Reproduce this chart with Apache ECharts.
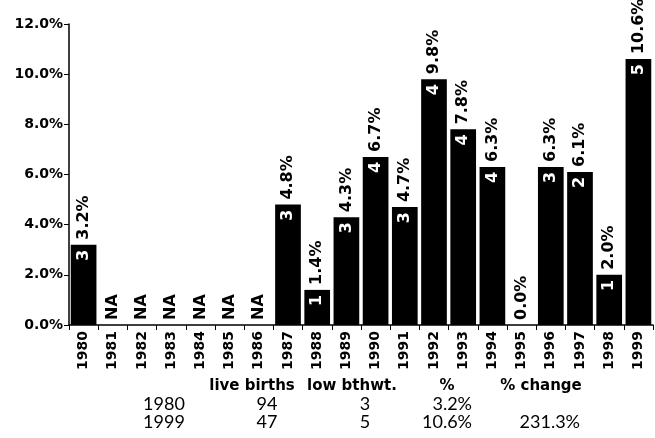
<!DOCTYPE html>
<html>
<head>
<meta charset="utf-8">
<script src="https://cdn.jsdelivr.net/npm/echarts@6/dist/echarts.min.js"></script>
<style>
  html, body { margin: 0; padding: 0; background: #fff; }
  #main { width: 655px; height: 438px; }
</style>
</head>
<body>
<div id="main"></div>
<script>
// data
const years = ['1980', '1981', '1982', '1983', '1984', '1985', '1986', '1987', '1988', '1989',
  '1990', '1991', '1992', '1993', '1994', '1995', '1996', '1997', '1998', '1999']
// percent low birthweight, null = NA
const pct = [3.2, null, null, null, null, null, null, 4.8, 1.4, 4.3,
  6.7, 4.7, 9.8, 7.8, 6.3, 0.0, 6.3, 6.1, 2.0, 10.6]
// number of low birthweight births (label inside bar)
const lowCount = [3, null, null, null, null, null, null, 3, 1, 3,
  4, 3, 4, 4, 4, 0, 3, 2, 1, 5]

const tableHead = ['live births', 'low bthwt.', '%', '% change']
const tableRows = [
  ['1980', '94', '3', '3.2%', ''],
  ['1999', '47', '5', '10.6%', '231.3%']
]

const bold = '"DejaVu Sans", sans-serif'
const light = 'Lato, "DejaVu Sans", sans-serif'

let chart = echarts.init(document.getElementById('main'))

// value bar + outer label
let barData = pct.map(v => ({
  value: v === null ? 0 : v,
  label: { formatter: v === null ? 'NA' : v.toFixed(1) + '%' }
}))

// transparent copy just to hold inner count labels
let innerData = lowCount.map((c, i) => ({
  value: pct[i] === null ? 0 : pct[i],
  label: { show: !!c, formatter: String(c) }
}))

// table under the chart
let headX = [252, 352, 447, 541]
let colX = [164, 267, 365, 472, 580]
let colAlign = ['center', 'center', 'center', 'right', 'right']
let graphics = []
tableHead.forEach((h, j) => {
  graphics.push({
    type: 'text', x: headX[j], y: 386,
    style: { text: h, font: 'bold 15px ' + bold, fill: '#000', align: 'center', verticalAlign: 'middle' }
  })
})
tableRows.forEach((row, r) => {
  row.forEach((t, j) => {
    if (!t) return
    graphics.push({
      type: 'text', x: colX[j], y: 404 + r * 18,
      style: { text: t, font: 'normal 18px ' + light, fill: '#000', align: colAlign[j], verticalAlign: 'middle' }
    })
  })
})

let option = {
  animation: false,
  grid: { left: 69, right: 2, top: 24, bottom: 113 },
  xAxis: {
    type: 'category',
    data: years,
    axisLine: { lineStyle: { color: '#000', width: 1.5 } },
    axisTick: { show: true, length: 5, lineStyle: { color: '#000' } },
    axisLabel: {
      rotate: 90, color: '#000', fontWeight: 'bold', fontSize: 14,
      fontFamily: bold, margin: 6
    }
  },
  yAxis: {
    type: 'value',
    min: 0, max: 12, interval: 2,
    splitLine: { show: false },
    axisLine: { show: true, lineStyle: { color: '#000', width: 1.5 } },
    axisTick: { show: true, length: 5, lineStyle: { color: '#000' } },
    axisLabel: {
      color: '#000', fontWeight: 'bold', fontSize: 14, fontFamily: bold, margin: 6,
      formatter: v => v.toFixed(1) + '%'
    }
  },
  series: [
    {
      type: 'bar',
      data: barData,
      barCategoryGap: '12%',
      barGap: '-100%',
      itemStyle: { color: '#000' },
      label: {
        show: true, position: 'top', rotate: 90, align: 'left', verticalAlign: 'middle',
        distance: 5, color: '#000', fontWeight: 'bold', fontSize: 16, fontFamily: bold
      }
    },
    {
      type: 'bar',
      data: innerData,
      barCategoryGap: '12%',
      barGap: '-100%',
      itemStyle: { color: 'transparent' },
      label: {
        position: 'insideTop', rotate: 90, align: 'right', verticalAlign: 'middle',
        distance: 5, color: '#fff', fontWeight: 'bold', fontSize: 16, fontFamily: bold
      }
    }
  ],
  graphic: graphics
}

chart.setOption(option)
</script>
</body>
</html>
